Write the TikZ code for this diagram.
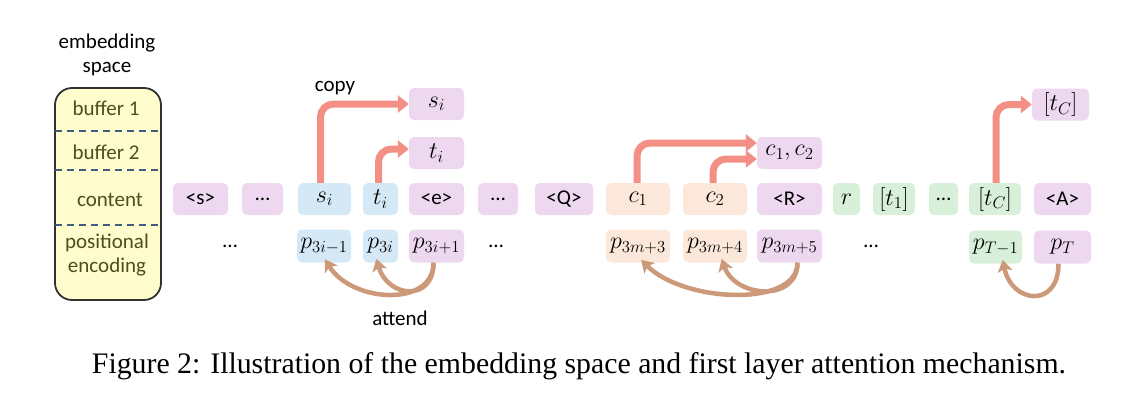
\documentclass[tikz,border=0pt]{standalone}
\usepackage[no-math]{fontspec}
\usepackage{fix-cm}
\setmainfont{Carlito}
\newfontfamily\capfont{Liberation Serif}
\usetikzlibrary{arrows.meta}
\definecolor{pinkc}{RGB}{237,216,240}
\definecolor{bluec}{RGB}{212,232,246}
\definecolor{peachc}{RGB}{251,232,218}
\definecolor{greenc}{RGB}{216,240,218}
\definecolor{yellowc}{RGB}{255,252,205}
\definecolor{copyc}{RGB}{243,143,132}
\definecolor{attendc}{RGB}{204,154,122}
\definecolor{olivec}{RGB}{78,78,30}
\definecolor{dashc}{RGB}{62,92,125}
\definecolor{borderc}{RGB}{50,50,50}
\newcommand\mth[1]{{\fontsize{24}{28}\selectfont$#1$}}
\begin{document}
\begin{tikzpicture}[x=1pt,y=-1pt,
  tok/.style={rounded corners=5pt, minimum height=32pt, inner sep=0pt, font=\fontsize{21}{24}\selectfont},
  posbox/.style={rounded corners=5pt, minimum height=33pt, inner sep=0pt, font=\fontsize{21}{24}\selectfont},
  lbl/.style={inner sep=0pt, font=\fontsize{21}{24}\selectfont},
  emblbl/.style={inner sep=0pt, text=olivec, align=center, font=\fontsize{21}{24}\selectfont},
  dashline/.style={draw=dashc, line width=1.5pt, dash pattern=on 7pt off 5pt},
  copyarr/.style={draw=copyc, line width=7pt, rounded corners=13pt, -{Triangle[length=11pt,width=17pt]}},
  attend/.style={draw=attendc, line width=4.5pt, -{Stealth[length=12pt,width=15pt,inset=3pt]}, shorten >=-4pt}
]
\useasboundingbox (0,0) rectangle (1142,412);

% embedding space column
\node[lbl, align=center] (embtitle) at (107,55) {embedding\\space};
\node[draw=borderc, fill=yellowc, line width=1.8pt, rounded corners=17pt, minimum width=106pt, minimum height=212pt] (emb) at (108,194) {};
\draw[dashline] ([xshift=1pt]emb.west |- 0,131) -- ([xshift=-1pt]emb.east |- 0,131);
\draw[dashline] ([xshift=1pt]emb.west |- 0,170) -- ([xshift=-1pt]emb.east |- 0,170);
\draw[dashline] ([xshift=1pt]emb.west |- 0,225) -- ([xshift=-1pt]emb.east |- 0,225);
\node[emblbl] (b1) at (106,108) {buffer 1};
\node[emblbl] (b2) at (106,152) {buffer 2};
\node[emblbl] (cont) at (110,200) {content};
\node[emblbl] (penc) at (107,255) {positional\\encoding};

% content row
\node[tok, fill=pinkc, minimum width=55pt] (s) at (200.5,199) {<s>};
\node[tok, fill=pinkc, minimum width=41pt] (d1) at (262.5,199) {…};
\node[tok, fill=bluec, minimum width=53pt] (si) at (324.5,199) {\mth{s_i}};
\node[tok, fill=bluec, minimum width=35pt] (ti) at (380.5,199) {\mth{t_i}};
\node[tok, fill=pinkc, minimum width=55pt] (e) at (436.5,199) {<e>};
\node[tok, fill=pinkc, minimum width=40pt] (d2) at (498,199) {…};
\node[tok, fill=pinkc, minimum width=58pt] (Q) at (564,199) {<Q>};
\node[tok, fill=peachc, minimum width=64pt] (c1) at (638,199) {\mth{c_1}};
\node[tok, fill=peachc, minimum width=64pt] (c2) at (715,199) {\mth{c_2}};
\node[tok, fill=pinkc, minimum width=65pt] (R) at (789.5,199) {<R>};
\node[tok, fill=greenc, minimum width=27pt] (r) at (846.5,199) {\mth{r}};
\node[tok, fill=greenc, minimum width=42pt] (t1) at (894,199) {\mth{[t_1]}};
\node[tok, fill=greenc, minimum width=29pt] (d3) at (943.5,199) {…};
\node[tok, fill=greenc, minimum width=52pt] (tC) at (995,199) {\mth{[t_C]}};
\node[tok, fill=pinkc, minimum width=57pt] (A) at (1062.5,199) {<A>};

% positional row
\node[lbl] (pd1) at (230,246) {…};
\node[posbox, fill=bluec, minimum width=54pt] (p3im1) at (324,246) {\mth{p_{3i-1}}};
\node[posbox, fill=bluec, minimum width=35pt] (p3i) at (380.5,246) {\mth{p_{3i}}};
\node[posbox, fill=pinkc, minimum width=55pt] (p3ip1) at (436.5,246) {\mth{p_{3i+1}}};
\node[lbl] (pd2) at (496,246) {…};
\node[posbox, fill=peachc, minimum width=64pt] (p3m3) at (638,246) {\mth{p_{3m+3}}};
\node[posbox, fill=peachc, minimum width=64pt] (p3m4) at (715,246) {\mth{p_{3m+4}}};
\node[posbox, fill=pinkc, minimum width=65pt] (p3m5) at (789.5,246) {\mth{p_{3m+5}}};
\node[lbl] (pd3) at (871,246) {…};
\node[posbox, fill=greenc, minimum width=53pt] (pTm1) at (995.5,247) {\mth{p_{T-1}}};
\node[posbox, fill=pinkc, minimum width=57pt] (pT) at (1062.5,247) {\mth{p_T}};

% buffer rows
\node[tok, fill=pinkc, minimum width=55pt] (siT) at (436.5,104) {\mth{s_i}};
\node[tok, fill=pinkc, minimum width=55pt] (tiT) at (436.5,153) {\mth{t_i}};
\node[tok, fill=pinkc, minimum width=65pt] (c12) at (789.5,153) {\mth{c_1,c_2}};
\node[tok, fill=pinkc, minimum width=57pt] (tCT) at (1060.5,104.5) {\mth{[t_C]}};

% copy arrows
\node[lbl] (copy) at (335,88) {copy};
\draw[copyarr] ([xshift=-4pt]si.north) |- (siT.west);
\draw[copyarr] ([xshift=-2pt]ti.north) |- ([yshift=4pt]tiT.west);
\draw[copyarr] ([xshift=-1pt]c1.north) |- ([yshift=10pt]c12.west);
\draw[copyarr] ([xshift=-2pt]c2.north) |- ([yshift=-6pt]c12.west);
\draw[copyarr] ([xshift=1pt]tC.north) |- (tCT.west);

% attend arrows
\draw[attend] ([xshift=-3pt]p3ip1.south) .. controls +(0,45) and +(25,40) .. ([xshift=3pt]p3im1.south);
\draw[attend] ([xshift=-3pt]p3ip1.south) .. controls +(0,40) and +(10,35) .. ([xshift=-3pt]p3i.south);
\draw[attend] ([xshift=8pt]p3m5.south) .. controls +(0,45) and +(40,40) .. ([xshift=6pt]p3m3.south);
\draw[attend] ([xshift=8pt]p3m5.south) .. controls +(0,40) and +(12,35) .. ([xshift=8pt]p3m4.south);
\draw[attend] ([xshift=-4pt]pT.south) .. controls +(0,45) and +(8,40) .. ([xshift=8pt]pTm1.south);
\node[lbl] (att) at (400,318) {attend};

% caption
\node[inner sep=0pt, anchor=base, font=\capfont\fontsize{29.8}{34}\selectfont] (cap) at (579,373) {Figure 2: Illustration of the embedding space and first layer attention mechanism.};
\end{tikzpicture}
\end{document}
